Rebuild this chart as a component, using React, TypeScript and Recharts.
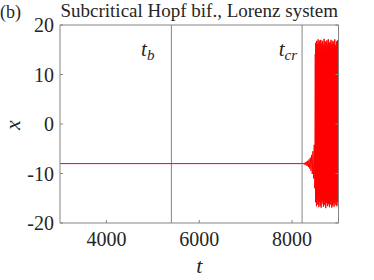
import React from 'react';
import { LineChart, Line, XAxis, YAxis, ReferenceLine } from 'recharts';

const panelLabel = '(b)';
const title = 'Subcritical Hopf bif., Lorenz system';
const xLabel = 't';
const yLabel = 'x';
const xTicks = [4000, 6000, 8000];
const yTicks = [-20, -10, 0, 10, 20];
const xDomain: [number, number] = [3000, 9000];
const yDomain: [number, number] = [-20, 20];
const tB = 5400;
const tCr = 8215;

// steady state before the bifurcation
const flatT = [3000, 8215];
const flatX = [-8, -8];

// growing oscillation around the fixed point (sampled every growDt)
const growT0 = 8225;
const growDt = 14;
const growX = [
  -7.95, -8.08, -7.88, -8.17, -7.77, -8.3, -7.62, -8.47, -7.42, -8.7,
  -7.16, -9.0, -6.8, -9.45, -6.25, -10.1, -5.5, -11.0, -4.2, -13.0,
];

// large chaotic oscillation (sampled every chaosDt)
const chaosT0 = 8500;
const chaosDt = 5;
const chaosX = [
  14.1, -15.8, 16.4, -14.0, 15.2, -16.6, 16.8, -15.2,
  16.2, -15.1, 15.4, -16.3, 17.1, -14.2, 14.8, -16.8, 16.6, -15.7, 15.9, -13.8, 16.9, -16.5, 14.6, -15.3, 17.0, -16.9, 15.5, -14.6,
  16.3, -16.1, 15.1, -15.5, 16.8, -13.5, 16.0, -16.7, 14.9, -15.9, 17.2, -14.9, 15.7, -16.4, 16.5, -15.2, 15.0, -17.0, 16.7, -14.4,
  15.6, -16.0, 16.9, -15.8, 14.7, -16.6, 16.1, -13.9, 17.1, -16.2, 15.3, -15.0, 16.4, -16.8, 15.8, -14.7, 16.6, -15.6, 14.5, -16.3,
  17.0, -15.4, 15.2, -16.9, 16.2, -14.1, 15.9, -16.5, 16.8, -15.1, 15.4, -15.9, 16.5, -16.7, 14.8, -14.5, 17.1, -16.0, 15.6, -15.3,
  16.0, -16.4, 15.1, -14.8, 16.7, -16.6, 15.5, -15.7, 16.9, -14.3, 14.9, -16.2, 16.3,
];

const data = [
  ...flatT.map((t, i) => ({ t, x: flatX[i] })),
  ...growX.map((x, i) => ({ t: growT0 + i * growDt, x })),
  ...chaosX.map((x, i) => ({ t: chaosT0 + i * chaosDt, x })),
];

const AXIS = '#858585';
const TEXT = '#262626';
const FONT = '"Liberation Serif", "DejaVu Serif", serif';
const TICK_LEN = 3;

const BottomTick = (p: any) => (
  <g>
    <line x1={p.x} x2={p.x} y1={p.y} y2={p.y - TICK_LEN} stroke={AXIS} />
    <text x={p.x} y={p.y + 23} textAnchor="middle" fill={TEXT} fontSize={20} fontFamily={FONT}>
      {p.payload.value}
    </text>
  </g>
);
const TopTick = (p: any) => (
  <line x1={p.x} x2={p.x} y1={p.y} y2={p.y + TICK_LEN} stroke={AXIS} />
);
const LeftTick = (p: any) => (
  <g>
    <line x1={p.x} x2={p.x + TICK_LEN} y1={p.y} y2={p.y} stroke={AXIS} />
    <text x={p.x - 6} y={p.y} dy="0.35em" textAnchor="end" fill={TEXT} fontSize={20} fontFamily={FONT}>
      {p.payload.value}
    </text>
  </g>
);
const RightTick = (p: any) => (
  <line x1={p.x} x2={p.x - TICK_LEN} y1={p.y} y2={p.y} stroke={AXIS} />
);

const MarkLabel = ({ viewBox, sub, dx }: any) => (
  <text x={viewBox.x + dx} y={viewBox.y + 31} textAnchor="end" fill={TEXT} fontFamily={FONT} fontSize={21}>
    <tspan fontStyle="italic">t</tspan>
    <tspan fontStyle="italic" fontSize={15} dy={4}>{sub}</tspan>
  </text>
);

export default function App() {
  const W = 374;
  const H = 280;
  const margin = { top: 24, right: 34.5, bottom: 56, left: 59 };
  const plotLeft = 60;
  const plotRight = W - 35.5;
  const cx = (plotLeft + plotRight) / 2;
  return (
    <div style={{ position: 'absolute', left: 0, top: 0, width: W, height: H, background: '#fff' }}>
      <LineChart width={W} height={H} data={data} margin={margin}>
        <XAxis
          dataKey="t"
          type="number"
          domain={xDomain}
          ticks={xTicks}
          allowDataOverflow
          height={1}
          tickSize={0}
          tickMargin={0}
          stroke={AXIS}
          tick={<BottomTick />}
          interval={0}
        />
        <XAxis
          xAxisId="top"
          orientation="top"
          type="number"
          domain={xDomain}
          ticks={xTicks}
          allowDataOverflow
          height={1}
          tickSize={0}
          tickMargin={0}
          stroke={AXIS}
          tick={<TopTick />}
          interval={0}
        />
        <YAxis
          type="number"
          domain={yDomain}
          ticks={yTicks}
          allowDataOverflow
          width={1}
          tickSize={0}
          tickMargin={0}
          stroke={AXIS}
          tick={<LeftTick />}
          interval={0}
        />
        <YAxis
          yAxisId="right"
          orientation="right"
          type="number"
          domain={yDomain}
          ticks={yTicks}
          allowDataOverflow
          width={1}
          tickSize={0}
          tickMargin={0}
          stroke={AXIS}
          tick={<RightTick />}
          interval={0}
        />
        <ReferenceLine x={tB} stroke={AXIS} label={(p: any) => <MarkLabel viewBox={p.viewBox} sub="b" dx={-17} />} />
        <ReferenceLine x={tCr} stroke={AXIS} label={(p: any) => <MarkLabel viewBox={p.viewBox} sub="cr" dx={-5} />} />
        <Line
          dataKey="x"
          type="linear"
          stroke="#ff0000"
          strokeWidth={1}
          dot={false}
          isAnimationActive={false}
        />
        <text x={0} y={18} fill={TEXT} fontSize={18} fontFamily={FONT}>{panelLabel}</text>
        <text x={cx} y={17} textAnchor="middle" fill={TEXT} fontSize={19} fontFamily={FONT}>{title}</text>
        <text x={cx} y={273} textAnchor="middle" fill={TEXT} fontSize={22} fontStyle="italic" fontFamily={FONT}>{xLabel}</text>
        <text
          x={20}
          y={125}
          textAnchor="middle"
          fill={TEXT}
          fontSize={22}
          fontStyle="italic"
          fontFamily={FONT}
          transform="rotate(-90 20 125)"
        >
          {yLabel}
        </text>
      </LineChart>
    </div>
  );
}
